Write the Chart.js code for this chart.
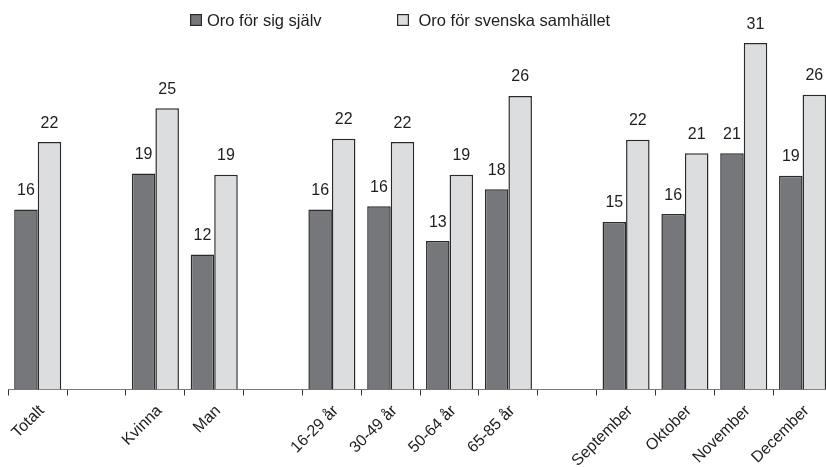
<!DOCTYPE html>
<html>
<head>
<meta charset="utf-8">
<script src="https://cdn.jsdelivr.net/npm/chart.js@4/dist/chart.umd.min.js"></script>
<style>
html,body{margin:0;padding:0;overflow:hidden;background:#fff;width:826px;height:467px;}
canvas{display:block;}
</style>
</head>
<body>
<canvas id="c" width="832" height="467" style="width:832px;height:467px"></canvas>
<script>
const categories = ['Totalt', '', 'Kvinna', 'Man', '', '16-29 år', '30-49 år', '50-64 år', '65-85 år', '', 'September', 'Oktober', 'November', 'December'];
const seriesNames = ['Oro för sig själv', 'Oro för svenska samhället'];
const selfValues    = [16.0, null, 19.2, 12.0, null, 16.0, 16.3, 13.2, 17.8, null, 14.9, 15.6, 21.0, 19.0];
const societyValues = [22.0, null, 25.0, 19.1, null, 22.3, 22.0, 19.1, 26.1, null, 22.2, 21.0, 30.8, 26.2];

const FONT = "'Liberation Sans', Arial, Helvetica, sans-serif";
const DARK = '#76777b';
const LIGHT = '#dcdddf';
const EDGE = '#2a2a2a';

const valueLabels = {
  id: 'valueLabels',
  afterDatasetsDraw(chart) {
    const ctx = chart.ctx;
    ctx.save();
    ctx.font = '16px ' + FONT;
    ctx.fillStyle = '#1e1e1e';
    ctx.textAlign = 'center';
    ctx.textBaseline = 'alphabetic';
    chart.data.datasets.forEach((ds, di) => {
      const meta = chart.getDatasetMeta(di);
      meta.data.forEach((bar, i) => {
        const v = ds.data[i];
        if (v === null || v === undefined) return;
        ctx.fillText(String(Math.round(v)), bar.x, bar.y - 14.5);
      });
    });
    ctx.restore();
  }
};

const customLegend = {
  id: 'customLegend',
  afterDraw(chart) {
    const ctx = chart.ctx;
    const items = [{box: 190, text: 207}, {box: 397, text: 418.5}];
    ctx.save();
    ctx.font = '16.5px ' + FONT;
    ctx.textBaseline = 'alphabetic';
    ctx.textAlign = 'left';
    chart.data.datasets.forEach((ds, i) => {
      const it = items[i];
      ctx.fillStyle = ds.backgroundColor;
      ctx.fillRect(it.box, 14, 12, 12);
      ctx.strokeStyle = EDGE;
      ctx.lineWidth = 1.2;
      ctx.strokeRect(it.box + 0.6, 14.6, 10.8, 10.8);
      ctx.fillStyle = '#1e1e1e';
      ctx.fillText(ds.label, it.text, 26);
    });
    ctx.restore();
  }
};

new Chart(document.getElementById('c'), {
  type: 'bar',
  data: {
    labels: categories,
    datasets: [
      {label: seriesNames[0], data: selfValues, backgroundColor: DARK, borderColor: EDGE, borderWidth: 1.5, borderSkipped: 'bottom'},
      {label: seriesNames[1], data: societyValues, backgroundColor: LIGHT, borderColor: EDGE, borderWidth: 1.5, borderSkipped: 'bottom'}
    ]
  },
  options: {
    responsive: false,
    animation: false,
    devicePixelRatio: 1,
    layout: {padding: {top: 29.5, left: 8.3, right: 0, bottom: 0}},
    plugins: {legend: {display: false}, tooltip: {enabled: false}},
    datasets: {bar: {categoryPercentage: 0.8, barPercentage: 1.0, grouped: true}},
    scales: {
      y: {display: false, min: 0, max: 32},
      x: {
        offset: true,
        grid: {display: true, offset: true, drawOnChartArea: false, drawTicks: true, tickLength: 6, color: '#333', lineWidth: 1},
        border: {display: true, color: '#7a7a7a', width: 1},
        ticks: {minRotation: 45, maxRotation: 45, autoSkip: false, padding: 6, labelOffset: 4, color: '#1e1e1e', font: {family: FONT, size: 16}},
        afterFit(scale) { scale.height = 77.5; }
      }
    }
  },
  plugins: [valueLabels, customLegend]
});
</script>
</body>
</html>
